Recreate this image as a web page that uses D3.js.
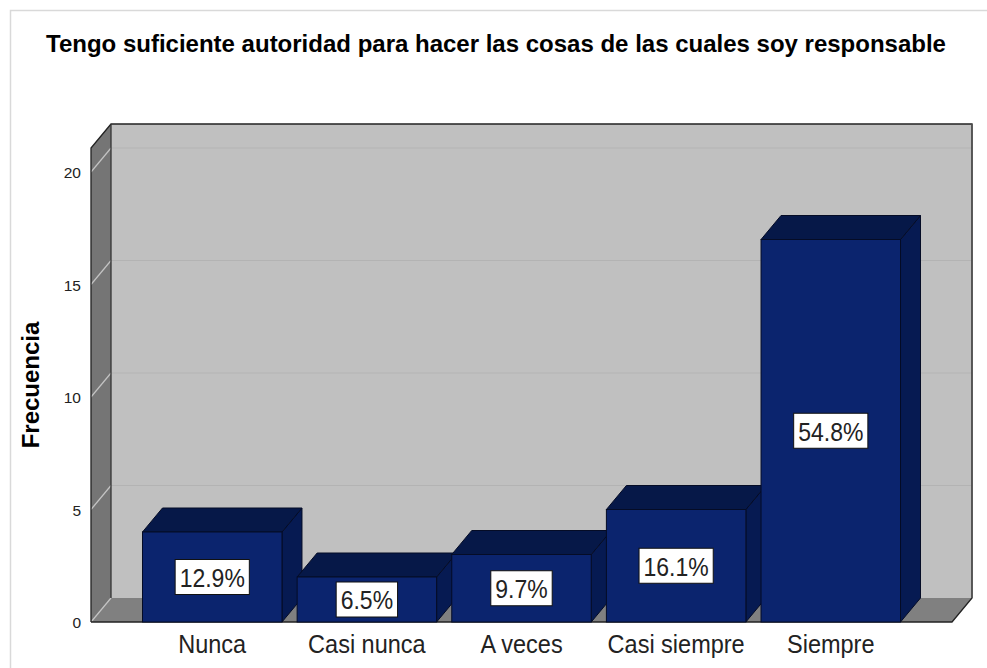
<!DOCTYPE html>
<html>
<head>
<meta charset="utf-8">
<script src="https://cdn.jsdelivr.net/npm/d3@7"></script>
<style>
  body { margin: 0; background: #fff; }
  svg { display: block; font-family: "Liberation Sans", Arial, sans-serif; }
</style>
</head>
<body>
<svg width="987" height="668"></svg>
<script>
// chart values
const categories = ['Nunca', 'Casi nunca', 'A veces', 'Casi siempre', 'Siempre'];
const counts = [4, 2, 3, 5, 17];
const percentLabels = ['12.9%', '6.5%', '9.7%', '16.1%', '54.8%'];
const yTicks = [0, 5, 10, 15, 20];
const chartTitle = 'Tengo suficiente autoridad para hacer las cosas de las cuales soy responsable';
const yTitle = 'Frecuencia';

const svg = d3.select('svg');

// 3d depth offset
const dx = 20, dy = 24;
const left = 91, right = 952, bottom = 622, wallTop = 148;

const x = d3.scaleBand()
  .domain(categories)
  .range([left, right])
  .paddingInner(0.098)
  .paddingOuter(0.333);

const y = d3.scaleLinear()
  .domain([0, 20])
  .range([bottom, 172]);

const data = categories.map((c, i) => ({cat: c, n: counts[i], pct: percentLabels[i]}));

// outer frame
svg.append('rect')
  .attr('x', 10.5).attr('y', 10.5)
  .attr('width', 1000).attr('height', 700)
  .attr('fill', 'none')
  .attr('stroke', '#d9d9d9')
  .attr('stroke-width', 1.5);

// title
svg.append('text')
  .attr('x', 496)
  .attr('y', 52)
  .attr('text-anchor', 'middle')
  .attr('font-weight', 'bold')
  .attr('font-size', 24)
  .attr('fill', '#000')
  .text(chartTitle);

// walls
const pts = a => a.map(p => p.join(',')).join(' ');
// back wall
svg.append('polygon')
  .attr('points', pts([[left + dx, wallTop - dy], [right + dx, wallTop - dy], [right + dx, bottom - dy], [left + dx, bottom - dy]]))
  .attr('fill', '#c0c0c0');
// left wall
svg.append('polygon')
  .attr('points', pts([[left, wallTop], [left + dx, wallTop - dy], [left + dx, bottom - dy], [left, bottom]]))
  .attr('fill', '#757575');
// floor
svg.append('polygon')
  .attr('points', pts([[left, bottom], [left + dx, bottom - dy], [right + dx, bottom - dy], [right, bottom]]))
  .attr('fill', '#808080');

// gridlines
const grid = svg.append('g');
grid.selectAll('line.back')
  .data(yTicks.filter(d => d > 0))
  .enter().append('line')
  .attr('class', 'back')
  .attr('x1', left + dx).attr('x2', right + dx)
  .attr('y1', d => y(d) - dy).attr('y2', d => y(d) - dy)
  .attr('stroke', '#b3b3b3')
  .attr('stroke-width', 1.2);
grid.selectAll('line.side')
  .data(yTicks)
  .enter().append('line')
  .attr('class', 'side')
  .attr('x1', left).attr('x2', left + dx)
  .attr('y1', d => y(d)).attr('y2', d => y(d) - dy)
  .attr('stroke', '#c4c4c4')
  .attr('stroke-width', 1.2);

// wall outlines
svg.append('path')
  .attr('d', `M${left},${bottom}V${wallTop}L${left + dx},${wallTop - dy}H${right + dx}V${bottom - dy}L${right},${bottom}H${left}`)
  .attr('fill', 'none')
  .attr('stroke', '#222')
  .attr('stroke-width', 1.3);
svg.append('line')
  .attr('x1', left + dx).attr('x2', left + dx)
  .attr('y1', wallTop - dy).attr('y2', bottom - dy)
  .attr('stroke', '#333')
  .attr('stroke-width', 1.3);
svg.append('line')
  .attr('x1', right + dx).attr('x2', right + dx)
  .attr('y1', wallTop - dy).attr('y2', bottom - dy)
  .attr('stroke', '#555')
  .attr('stroke-width', 1.5);

// y tick labels
svg.append('g').selectAll('text')
  .data(yTicks)
  .enter().append('text')
  .attr('x', 81)
  .attr('y', d => y(d) + 6)
  .attr('text-anchor', 'end')
  .attr('font-size', 15.5)
  .attr('fill', '#222')
  .text(d => d);

// y title
svg.append('text')
  .attr('transform', 'translate(39,385) rotate(-90)')
  .attr('text-anchor', 'middle')
  .attr('font-weight', 'bold')
  .attr('font-size', 24)
  .attr('fill', '#000')
  .text(yTitle);

// bars, drawn left to right so each one covers the previous side
const bars = svg.append('g').selectAll('g')
  .data(data)
  .enter().append('g');

bars.append('polygon') // side
  .attr('points', d => {
    const x1 = x(d.cat) + x.bandwidth(), t = y(d.n);
    return pts([[x1, t], [x1 + dx, t - dy], [x1 + dx, bottom - dy], [x1, bottom]]);
  })
  .attr('fill', '#061a52')
  .attr('stroke', '#050c26')
  .attr('stroke-width', 1);

bars.append('polygon') // top
  .attr('points', d => {
    const x0 = x(d.cat), x1 = x0 + x.bandwidth(), t = y(d.n);
    return pts([[x0, t], [x0 + dx, t - dy], [x1 + dx, t - dy], [x1, t]]);
  })
  .attr('fill', '#061848')
  .attr('stroke', '#050c26')
  .attr('stroke-width', 1);

bars.append('rect') // front
  .attr('x', d => x(d.cat))
  .attr('y', d => y(d.n))
  .attr('width', x.bandwidth())
  .attr('height', d => bottom - y(d.n))
  .attr('fill', '#0b246e')
  .attr('stroke', '#050c26')
  .attr('stroke-width', 1);

// percentage labels
const lab = bars.append('g')
  .attr('transform', d => `translate(${x(d.cat) + x.bandwidth() / 2},${(y(d.n) + bottom) / 2})`);
lab.append('text')
  .attr('text-anchor', 'middle')
  .attr('transform', 'scale(1,1.15)')
  .attr('y', 8.5)
  .attr('font-size', 23)
  .attr('fill', '#222')
  .text(d => d.pct);
lab.each(function() {
  const g = d3.select(this);
  const w = g.select('text').node().getComputedTextLength();
  g.insert('rect', 'text')
    .attr('x', -w / 2 - 4.5)
    .attr('y', -17.5)
    .attr('width', w + 9)
    .attr('height', 35)
    .attr('fill', '#fff')
    .attr('stroke', '#111')
    .attr('stroke-width', 1);
});

// category labels
svg.append('g').selectAll('text')
  .data(categories)
  .enter().append('text')
  .attr('transform', d => `translate(${x(d) + x.bandwidth() / 2},653) scale(1,1.06)`)
  .attr('text-anchor', 'middle')
  .attr('font-size', 23.5)
  .attr('fill', '#222')
  .text(d => d);
</script>
</body>
</html>
